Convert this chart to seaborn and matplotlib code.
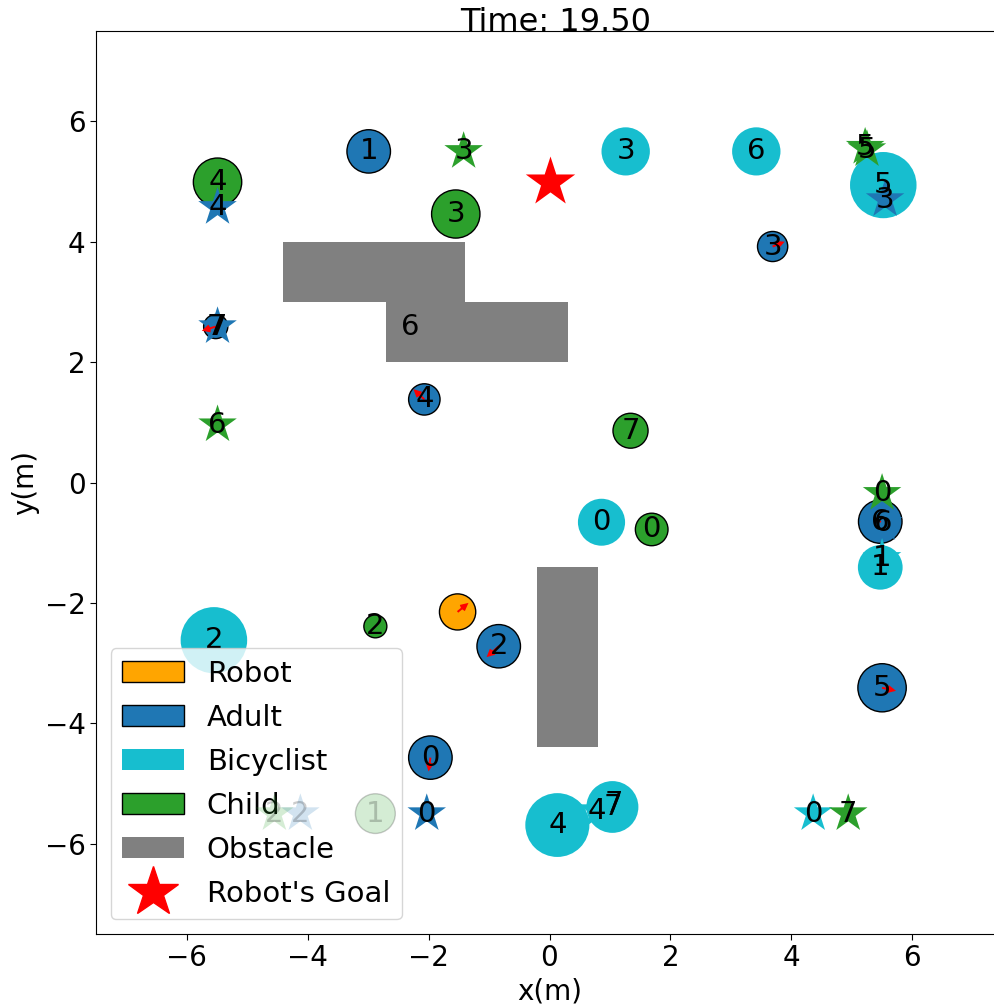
import numpy as np
import pandas as pd
import matplotlib
matplotlib.use("Agg")
import matplotlib.pyplot as plt
import seaborn as sns
from matplotlib.patches import Circle, Rectangle, Patch
from matplotlib.lines import Line2D

# ---------------- data ----------------
time_label = "Time: 19.50"

robot_xy = (-1.52, -2.15)
robot_radius = 0.30
robot_vel = (0.18, 0.15)
robot_goal = (0.0, 5.0)

adult_ids = [0, 1, 2, 3, 4, 5, 6, 7]
adult_x = [-1.97, -2.99, -0.84, 3.69, -2.07, 5.50, 5.47, -5.52]
adult_y = [-4.57, 5.50, -2.72, 3.92, 1.38, -3.41, -0.65, 2.59]
adult_r = [0.36, 0.36, 0.36, 0.25, 0.26, 0.40, 0.36, 0.20]
adult_vx = [-0.03, 0.0, -0.20, 0.20, -0.18, 0.23, 0.0, -0.23]
adult_vy = [-0.23, 0.0, -0.18, 0.08, 0.17, -0.05, 0.0, -0.07]
adult_goal_ids = [0, 2, 3, 4, 6, 7]
adult_goal_x = [-2.03, -4.12, 5.55, -5.49, 5.52, -5.49]
adult_goal_y = [-5.50, -5.50, 4.70, 4.57, -0.68, 2.59]
adult_goal_alpha = [1.0, 0.2, 1.0, 1.0, 1.0, 1.0]

bike_ids = [0, 1, 2, 3, 4, 5, 6, 7]
bike_x = [0.86, 5.47, -5.55, 1.26, 0.13, 5.52, 3.42, 1.04]
bike_y = [-0.66, -1.41, -2.62, 5.50, -5.69, 4.94, 5.50, -5.39]
bike_r = [0.39, 0.37, 0.55, 0.40, 0.53, 0.55, 0.40, 0.43]
bike_goal_ids = [0, 1, 4, 7]
bike_goal_x = [4.36, 5.50, 0.79, 1.06]
bike_goal_y = [-5.50, -1.26, -5.45, -5.34]

child_ids = [0, 1, 2, 3, 4, 6, 7]
child_x = [1.69, -2.88, -2.88, -1.55, -5.49, -2.30, 1.34]
child_y = [-0.78, -5.50, -2.39, 4.46, 4.99, 2.58, 0.86]
child_r = [0.27, 0.33, 0.19, 0.40, 0.40, 0.30, 0.29]
child_alpha = [1.0, 0.2, 1.0, 1.0, 1.0, 1.0, 1.0]
child_goal_ids = [0, 2, 3, 5, 5, 6, 7]
child_goal_x = [5.50, -4.55, -1.42, 5.22, 5.25, -5.49, 4.94]
child_goal_y = [-0.18, -5.50, 5.50, 5.57, 5.53, 0.96, -5.50]
child_goal_alpha = [1.0, 0.2, 1.0, 1.0, 1.0, 1.0, 1.0]

obstacle_x = [-4.40, -2.70, -0.20]
obstacle_y = [3.00, 2.00, -4.40]
obstacle_w = [3.00, 3.00, 1.00]
obstacle_h = [1.00, 1.00, 3.00]

legend_labels = ["Robot", "Adult", "Bicyclist", "Child", "Obstacle", "Robot's Goal"]

# ---------------- style ----------------
sns.set_style("white")
plt.rcParams["font.family"] = ["DejaVu Sans"]
for k in ["text.color", "axes.labelcolor", "xtick.color", "ytick.color", "axes.edgecolor"]:
    plt.rcParams[k] = "black"
pal = sns.color_palette("tab10")
c_adult = pal[0]
c_robot = "orange"
c_bike = pal[9]
c_child = pal[2]
c_obst = "gray"

FS = 20
NFS = 21
LFS = 21

fig = plt.figure(figsize=(9.94, 10.05), dpi=100)
ax = fig.add_axes([96 / 994, 71 / 1005, 907 / 994, 903 / 1005])
ax.set_xlim(-7.5, 7.5)
ax.set_ylim(-7.5, 7.5)


def zo(a, base):
    return base if a >= 1.0 else base + 10


# agents (circles)
for x, y, r in zip(adult_x, adult_y, adult_r):
    ax.add_patch(Circle((x, y), r, facecolor=c_adult, edgecolor="black", lw=1, zorder=2))
for x, y, r in zip(bike_x, bike_y, bike_r):
    ax.add_patch(Circle((x, y), r, facecolor=c_bike, edgecolor="none", zorder=2))
for x, y, r, a in zip(child_x, child_y, child_r, child_alpha):
    ax.add_patch(Circle((x, y), r, facecolor=c_child, edgecolor="black", lw=1, alpha=a,
                        zorder=zo(a, 2)))
ax.add_patch(Circle(robot_xy, robot_radius, facecolor=c_robot, edgecolor="black", lw=1, zorder=2))

# goals (stars) via seaborn
goals = pd.DataFrame({
    "x": adult_goal_x + bike_goal_x + child_goal_x,
    "y": adult_goal_y + bike_goal_y + child_goal_y,
    "kind": ["Adult"] * len(adult_goal_x) + ["Bicyclist"] * len(bike_goal_x) + ["Child"] * len(child_goal_x),
    "alpha": adult_goal_alpha + [1.0] * len(bike_goal_x) + child_goal_alpha,
})
kind_color = {"Adult": c_adult, "Bicyclist": c_bike, "Child": c_child}
for a in sorted(goals["alpha"].unique()):
    sub = goals[goals["alpha"] == a]
    sns.scatterplot(data=sub, x="x", y="y", hue="kind", palette=kind_color, marker="*",
                    s=850, linewidth=0, alpha=a, legend=False, ax=ax, zorder=zo(a, 3))

# obstacles
for x, y, w, h in zip(obstacle_x, obstacle_y, obstacle_w, obstacle_h):
    ax.add_patch(Rectangle((x, y), w, h, facecolor=c_obst, edgecolor="none", zorder=4))

# robot goal
sns.scatterplot(x=[robot_goal[0]], y=[robot_goal[1]], marker="*", color="red", s=1400,
                linewidth=0, legend=False, ax=ax, zorder=3)

# velocity arrows
qx = [robot_xy[0]] + adult_x
qy = [robot_xy[1]] + adult_y
qu = [robot_vel[0]] + adult_vx
qv = [robot_vel[1]] + adult_vy
ax.quiver(qx, qy, qu, qv, angles="xy", scale_units="xy", scale=1, color="red",
          width=0.0022, headwidth=4, headlength=4, zorder=5)


# labels
def lab(x, y, t, a=1.0):
    ax.text(x, y, str(t), ha="center", va="center", fontsize=NFS, alpha=a, zorder=zo(a, 6),
            color="black")


for i, x, y in zip(adult_ids, adult_x, adult_y):
    lab(x, y, i)
for i, x, y in zip(bike_ids, bike_x, bike_y):
    lab(x, y, i)
for i, x, y, a in zip(child_ids, child_x, child_y, child_alpha):
    lab(x, y, i, a)
for i, x, y, a in zip(adult_goal_ids, adult_goal_x, adult_goal_y, adult_goal_alpha):
    lab(x, y, i, a)
for i, x, y in zip(bike_goal_ids, bike_goal_x, bike_goal_y):
    lab(x, y, i)
for i, x, y, a in zip(child_goal_ids, child_goal_x, child_goal_y, child_goal_alpha):
    lab(x, y, i, a)

ax.text(0.1, 7.5, time_label, ha="center", va="baseline", fontsize=23, color="black")

ax.set_xlabel("x(m)", fontsize=FS)
ax.set_ylabel("y(m)", fontsize=FS)
ax.set_xticks([-6, -4, -2, 0, 2, 4, 6])
ax.set_yticks([-6, -4, -2, 0, 2, 4, 6])
ax.tick_params(labelsize=FS, direction="out", length=4, left=True, bottom=True, colors="black")

handles = [
    Patch(facecolor=c_robot, edgecolor="black"),
    Patch(facecolor=c_adult, edgecolor="black"),
    Patch(facecolor=c_bike, edgecolor="none"),
    Patch(facecolor=c_child, edgecolor="black"),
    Patch(facecolor=c_obst, edgecolor="none"),
    Line2D([], [], marker="*", color="red", linestyle="none", markersize=38),
]
leg = ax.legend(handles, legend_labels, loc="lower left", fontsize=LFS, frameon=True,
                handlelength=2.1, labelspacing=0.55)
leg.set_zorder(8)

fig.savefig("out.png", dpi=100)
